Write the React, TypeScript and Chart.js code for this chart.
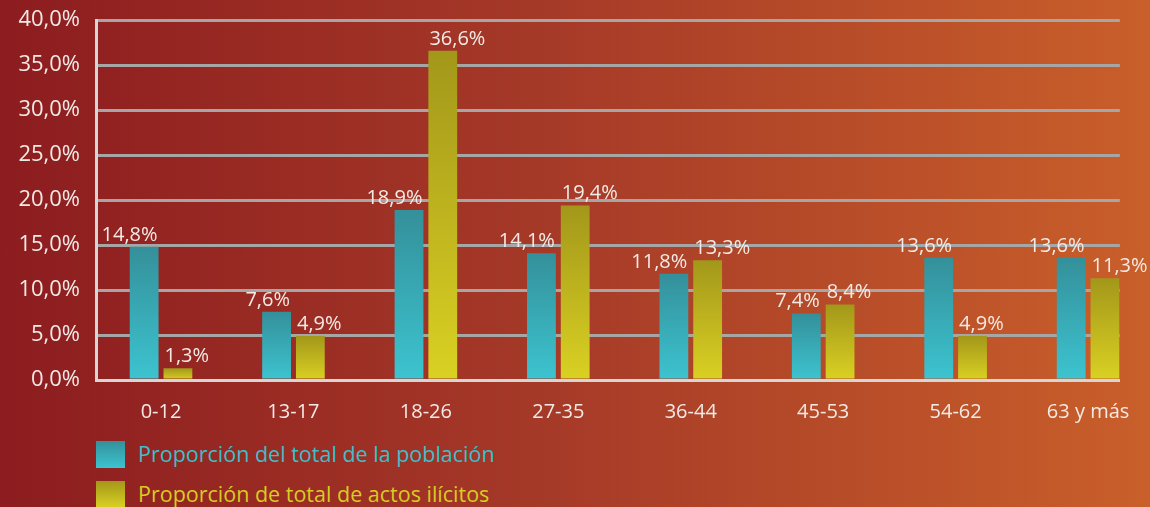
import React, { useEffect, useRef } from "react";
import { Chart, registerables } from "chart.js";

Chart.register(...registerables);

const categories = ["0-12", "13-17", "18-26", "27-35", "36-44", "45-53", "54-62", "63 y más"];
const poblacion = [14.8, 7.6, 18.9, 14.1, 11.8, 7.4, 13.6, 13.6];
const ilicitos = [1.3, 4.9, 36.6, 19.4, 13.3, 8.4, 4.9, 11.3];
const seriesNames = ["Proporción del total de la población", "Proporción de total de actos ilícitos"];
const yMin = 0;
const yMax = 40;
const yStep = 5;

const FONT = '"Open Sans", "Noto Sans", sans-serif';
const TEXT = "#F3EAE6";
const TEAL_TOP = "#34909A";
const TEAL_BOT = "#3CC4D0";
const YEL_TOP = "#A3971A";
const YEL_BOT = "#DAD123";

const fmt = (v: number) => v.toFixed(1).replace(".", ",") + "%";

const barGradient = (top: string, bottom: string) => (ctx: any) => {
  const chart = ctx.chart;
  if (!chart.chartArea || ctx.type !== "data") return bottom;
  const y = chart.scales.y;
  const v = ctx.parsed ? ctx.parsed.y : 0;
  const yTop = y.getPixelForValue(v);
  const yBot = y.getPixelForValue(0);
  if (!isFinite(yTop) || !isFinite(yBot) || yTop === yBot) return bottom;
  const g = chart.ctx.createLinearGradient(0, yTop, 0, yBot);
  g.addColorStop(0, top);
  g.addColorStop(1, bottom);
  return g;
};

const labelPlugin = {
  id: "valueLabels",
  afterDatasetsDraw(chart: any) {
    const ctx = chart.ctx;
    ctx.save();
    ctx.font = `20px ${FONT}`;
    ctx.fillStyle = TEXT;
    ctx.textBaseline = "alphabetic";
    chart.data.datasets.forEach((_ds: any, di: number) => {
      const meta = chart.getDatasetMeta(di);
      const vals = di === 0 ? poblacion : ilicitos;
      meta.data.forEach((bar: any, i: number) => {
        const w = bar.width;
        if (di === 0) {
          ctx.textAlign = "right";
          ctx.fillText(fmt(vals[i]), bar.x + w / 2 - 1, bar.y - 6);
        } else {
          ctx.textAlign = "left";
          ctx.fillText(fmt(vals[i]), bar.x - w / 2 + 1, bar.y - 6);
        }
      });
    });
    ctx.restore();
  },
};

export default function App() {
  const ref = useRef<HTMLCanvasElement | null>(null);

  useEffect(() => {
    const prevMargin = document.body.style.margin;
    document.body.style.margin = "0";
    if (!ref.current) return;
    const chart = new Chart(ref.current, {
      type: "bar",
      data: {
        datasets: [
          {
            label: seriesNames[0],
            data: poblacion.map((v, i) => ({ x: i, y: v })),
            backgroundColor: barGradient(TEAL_TOP, TEAL_BOT),
            borderWidth: 0,
            categoryPercentage: 0.51,
            barPercentage: 0.853,
          },
          {
            label: seriesNames[1],
            data: ilicitos.map((v, i) => ({ x: i, y: v })),
            backgroundColor: barGradient(YEL_TOP, YEL_BOT),
            borderWidth: 0,
            categoryPercentage: 0.51,
            barPercentage: 0.853,
          },
        ],
      },
      options: {
        responsive: false,
        animation: false,
        layout: { padding: { top: 0, right: 23, left: 0, bottom: 0 } },
        plugins: { legend: { display: false }, tooltip: { enabled: false } },
        scales: {
          x: {
            type: "linear",
            offset: false,
            min: -0.491,
            max: 7.24,
            afterBuildTicks: (scale: any) => {
              scale.ticks = categories.map((_c, i) => ({ value: i }));
            },
            afterFit: (scale: any) => {
              scale.height = 50;
            },
            grid: { display: false, drawTicks: false, offset: false },
            border: { display: true, color: "#D6D6D6", width: 3 },
            ticks: {
              autoSkip: false,
              maxRotation: 0,
              padding: 20,
              color: TEXT,
              font: { family: FONT, size: 20 },
              callback: (v: any) => categories[v as number] ?? "",
            },
          },
          y: {
            min: yMin,
            max: yMax,
            afterFit: (scale: any) => {
              scale.width = 96;
            },
            grid: { color: "#A6A6A6", lineWidth: 3, drawTicks: false },
            border: { display: true, color: "#D6D6D6", width: 3 },
            ticks: {
              stepSize: yStep,
              padding: 16,
              color: TEXT,
              font: { family: FONT, size: 22 },
              callback: (v: any) => fmt(Number(v)),
            },
          },
        },
      },
      plugins: [labelPlugin],
    } as any);
    return () => {
      chart.destroy();
      document.body.style.margin = prevMargin;
    };
  }, []);

  const legendText = (color: string) => ({
    position: "absolute" as const,
    left: 138,
    fontFamily: FONT,
    fontSize: 21.5,
    lineHeight: "27px",
    color,
    whiteSpace: "nowrap" as const,
  });

  return (
    <div
      style={{
        position: "fixed",
        left: 0,
        top: 0,
        width: 1150,
        height: 507,
        overflow: "hidden",
        background: "linear-gradient(90deg, #8C1C1F 0%, #A63A28 48%, #C95F2A 100%)",
      }}
    >
      <canvas ref={ref} width={1150} height={439} style={{ position: "absolute", left: 0, top: -9 }} />
      <div
        style={{
          position: "absolute",
          left: 96,
          top: 441,
          width: 29,
          height: 27,
          background: `linear-gradient(180deg, ${TEAL_TOP}, ${TEAL_BOT})`,
        }}
      />
      <div style={{ ...legendText("#3CBFCB"), top: 440 }}>{seriesNames[0]}</div>
      <div
        style={{
          position: "absolute",
          left: 96,
          top: 481,
          width: 29,
          height: 27,
          background: `linear-gradient(180deg, ${YEL_TOP}, ${YEL_BOT})`,
        }}
      />
      <div style={{ ...legendText("#D9CB22"), top: 480 }}>{seriesNames[1]}</div>
    </div>
  );
}
